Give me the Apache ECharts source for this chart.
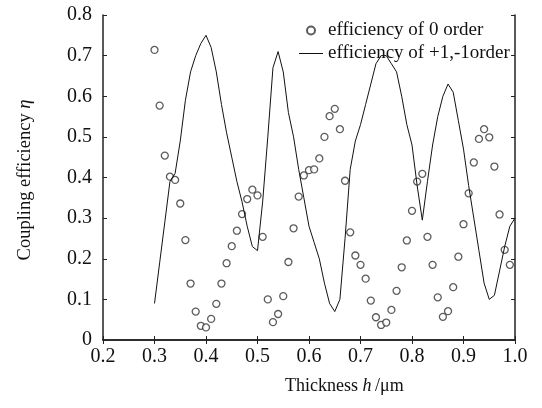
<!DOCTYPE html>
<html>
<head>
<meta charset="utf-8">
<script src="https://cdn.jsdelivr.net/npm/echarts@6/dist/echarts.min.js"></script>
<style>
  html, body { margin: 0; padding: 0; background: #fff; }
  #chart { width: 542px; height: 408px; }
</style>
</head>
<body>
<div id="chart"></div>
<script>
// thickness samples (um)
const thickness = [
  0.30, 0.31, 0.32, 0.33, 0.34, 0.35, 0.36, 0.37, 0.38, 0.39,
  0.40, 0.41, 0.42, 0.43, 0.44, 0.45, 0.46, 0.47, 0.48, 0.49,
  0.50, 0.51, 0.52, 0.53, 0.54, 0.55, 0.56, 0.57, 0.58, 0.59,
  0.60, 0.61, 0.62, 0.63, 0.64, 0.65, 0.66, 0.67, 0.68, 0.69,
  0.70, 0.71, 0.72, 0.73, 0.74, 0.75, 0.76, 0.77, 0.78, 0.79,
  0.80, 0.81, 0.82, 0.83, 0.84, 0.85, 0.86, 0.87, 0.88, 0.89,
  0.90, 0.91, 0.92, 0.93, 0.94, 0.95, 0.96, 0.97, 0.98, 0.99, 1.00
];

// efficiency of 0 order (points, 0.30 .. 0.99)
const order0 = [
  0.714, 0.577, 0.454, 0.402, 0.394, 0.336, 0.246, 0.139, 0.070, 0.035,
  0.031, 0.052, 0.089, 0.139, 0.189, 0.231, 0.269, 0.310, 0.347, 0.370,
  0.356, 0.254, 0.100, 0.044, 0.064, 0.108, 0.192, 0.275, 0.353, 0.405,
  0.418, 0.420, 0.447, 0.500, 0.551, 0.569, 0.519, 0.392, 0.265, 0.208,
  0.185, 0.151, 0.097, 0.056, 0.037, 0.043, 0.074, 0.121, 0.179, 0.245,
  0.318, 0.390, 0.409, 0.254, 0.185, 0.105, 0.057, 0.071, 0.130, 0.205,
  0.285, 0.361, 0.437, 0.495, 0.519, 0.499, 0.427, 0.309, 0.222, 0.185
];

// efficiency of +1,-1 order (line, 0.30 .. 1.00)
const order1 = [
  0.09, 0.19, 0.29, 0.39, 0.41, 0.49, 0.59, 0.66, 0.70, 0.73,
  0.75, 0.72, 0.66, 0.58, 0.51, 0.45, 0.39, 0.34, 0.28, 0.23,
  0.22, 0.34, 0.50, 0.67, 0.71, 0.66, 0.56, 0.50, 0.42, 0.35,
  0.28, 0.24, 0.20, 0.14, 0.09, 0.07, 0.10, 0.25, 0.42, 0.49,
  0.53, 0.58, 0.63, 0.68, 0.70, 0.70, 0.68, 0.66, 0.60, 0.53,
  0.48, 0.38, 0.295, 0.39, 0.48, 0.55, 0.60, 0.63, 0.61, 0.54,
  0.47, 0.38, 0.30, 0.22, 0.14, 0.10, 0.11, 0.17, 0.23, 0.28, 0.30
];

const seriesNames = ['efficiency of 0 order', 'efficiency of +1,-1order'];

const font = '"Liberation Serif", "Times New Roman", serif';
const chart = echarts.init(document.getElementById('chart'));

const frameLine = { lineStyle: { color: '#222', width: 1.5 } };
const innerTick = { inside: true, length: 4, lineStyle: { color: '#222', width: 1 } };

chart.setOption({
  animation: false,
  grid: { left: 103, right: 27, top: 15, bottom: 68 },
  legend: {
    orient: 'vertical',
    left: 294,
    top: 16,
    itemGap: 4,
    itemWidth: 24,
    itemHeight: 8,
    textStyle: { fontFamily: font, fontSize: 19, color: '#111' },
    data: [
      { name: seriesNames[0], icon: 'circle' },
      { name: seriesNames[1], icon: 'path://M0,0H24V1H0Z' }
    ]
  },
  xAxis: [
    {
      type: 'value', min: 0.2, max: 1.0, interval: 0.1,
      axisLine: frameLine, axisTick: innerTick, splitLine: { show: false },
      axisLabel: {
        fontFamily: font, fontSize: 20, color: '#111', margin: 7,
        formatter: v => v.toFixed(1)
      }
    },
    {
      type: 'value', position: 'top', min: 0.2, max: 1.0, interval: 0.1,
      axisLine: frameLine, axisTick: innerTick, axisLabel: { show: false },
      splitLine: { show: false }
    }
  ],
  yAxis: [
    {
      type: 'value', min: 0, max: 0.8, interval: 0.1,
      axisLine: frameLine, axisTick: innerTick, splitLine: { show: false },
      axisLabel: {
        fontFamily: font, fontSize: 20, color: '#111', margin: 11,
        formatter: v => (v === 0 ? '0' : v.toFixed(1))
      }
    },
    {
      type: 'value', position: 'right', min: 0, max: 0.8, interval: 0.1,
      axisLine: frameLine, axisTick: innerTick, axisLabel: { show: false },
      splitLine: { show: false }
    }
  ],
  graphic: [
    {
      type: 'text', left: 285, top: 377,
      style: {
        text: '{a|Thickness }{i|h}{a|\u2009/μm}',
        rich: {
          a: { fontFamily: font, fontSize: 18, fill: '#111' },
          i: { fontFamily: font, fontSize: 18, fontStyle: 'italic', fill: '#111' }
        }
      }
    },
    {
      type: 'text', x: 25, y: 180, rotation: Math.PI / 2,
      style: {
        text: '{a|Coupling efficiency }{i|η}',
        align: 'center', verticalAlign: 'middle',
        rich: {
          a: { fontFamily: font, fontSize: 18.5, fill: '#111' },
          i: { fontFamily: font, fontSize: 18.5, fontStyle: 'italic', fill: '#111' }
        }
      }
    }
  ],
  series: [
    {
      name: seriesNames[0],
      type: 'scatter',
      symbol: 'circle',
      symbolSize: 7,
      itemStyle: { color: '#fff', borderColor: '#333', borderWidth: 1.3 },
      data: order0.map((v, i) => [thickness[i], v])
    },
    {
      name: seriesNames[1],
      type: 'line',
      symbol: 'none',
      itemStyle: { color: '#111' },
      lineStyle: { color: '#111', width: 1 },
      data: order1.map((v, i) => [thickness[i], v])
    }
  ]
});
</script>
</body>
</html>
